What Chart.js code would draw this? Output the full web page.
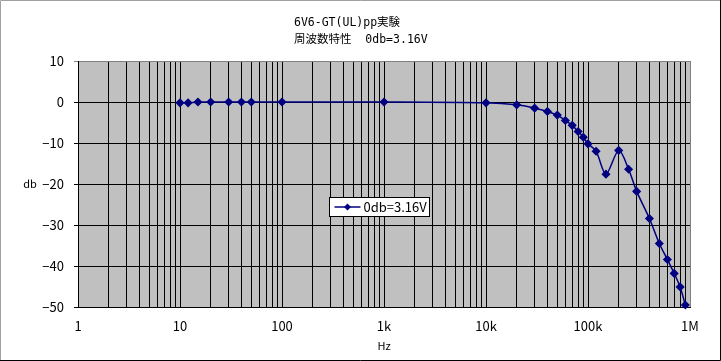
<!DOCTYPE html>
<html>
<head>
<meta charset="utf-8">
<script src="https://cdn.jsdelivr.net/npm/chart.js@4.4.1/dist/chart.umd.min.js"></script>
<style>
  html, body { margin: 0; padding: 0; background: #fff; overflow: hidden; }
  #wrap { position: relative; width: 721px; height: 361px; }
</style>
</head>
<body>
<div id="wrap"><canvas id="c" width="721" height="361"></canvas></div>
<script>
const freqHz = [10, 12, 15, 20, 30, 40, 50, 100, 1000, 10000, 20000, 30000, 40000, 50000,
  60000, 70000, 80000, 90000, 100000, 120000, 150000, 200000, 250000, 300000,
  400000, 500000, 600000, 700000, 800000, 900000];
const levelDb = [-0.2, -0.2, 0, 0, 0, 0, 0, 0, 0, -0.2, -0.7, -1.5, -2.3, -3.2,
  -4.5, -5.7, -7.2, -8.6, -10.2, -12.0, -17.6, -11.8, -16.4, -21.8,
  -28.4, -34.5, -38.4, -41.8, -45.1, -49.5];
const seriesLabel = '0db=3.16V';
const titleLines = ['6V6-GT(UL)pp実験', '周波数特性  0db=3.16V'];
const xDecades = [1, 10, 100, 1000, 10000, 100000, 1000000];
const xDecadeLabels = ['1', '10', '100', '1k', '10k', '100k', '1M'];
const yMin = -50, yMax = 10, yStep = 10;

const FONT = "'Noto Sans CJK JP', 'Noto Sans', sans-serif";
const MONO = "'DejaVu Sans Mono', 'Noto Sans CJK JP', monospace";
const NAVY = '#000080';
Chart.defaults.font.family = FONT;
Chart.defaults.font.size = 13;
Chart.defaults.color = '#000';

const fmtMinus = v => String(v).replace('-', '\u2212');

// minor gridlines 1..9 in every decade
function logTicks() {
  const out = [];
  xDecades.forEach((d, i) => {
    if (i === xDecades.length - 1) { out.push({ value: d }); return; }
    for (let k = 1; k <= 9; k++) out.push({ value: d * k });
  });
  return out;
}

const frame = {
  id: 'frame',
  beforeDraw(chart) {
    const { ctx, chartArea: a } = chart;
    ctx.save();
    ctx.fillStyle = '#c0c0c0';
    ctx.fillRect(a.left, a.top, a.right - a.left, a.bottom - a.top);
    ctx.restore();
  },
  afterDraw(chart) {
    const { ctx, chartArea: a, width, height } = chart;
    ctx.save();
    // title, left aligned like the original
    ctx.fillStyle = '#000';
    ctx.font = '11.5px ' + MONO;
    ctx.textAlign = 'left';
    ctx.textBaseline = 'middle';
    ctx.fillText(titleLines[0], 294, 23);
    ctx.fillText(titleLines[1], 294, 40);
    // axis names
    ctx.font = '11px ' + FONT;
    ctx.textAlign = 'center';
    ctx.fillText('db', 30, chart.scales.y.getPixelForValue(-20));
    ctx.fillText('Hz', (a.left + a.right) / 2, 346);
    // legend box
    const lx = 329.5, ly = 197.5, lw = 100, lh = 19;
    ctx.fillStyle = '#fff';
    ctx.fillRect(lx, ly, lw, lh);
    ctx.strokeStyle = '#000';
    ctx.lineWidth = 1;
    ctx.strokeRect(lx, ly, lw, lh);
    ctx.strokeStyle = NAVY;
    ctx.lineWidth = 1.5;
    ctx.beginPath();
    ctx.moveTo(lx + 5, ly + lh / 2);
    ctx.lineTo(lx + 31, ly + lh / 2);
    ctx.stroke();
    ctx.fillStyle = NAVY;
    const cx = lx + 18, cy = ly + lh / 2, r = 3.5;
    ctx.beginPath();
    ctx.moveTo(cx, cy - r); ctx.lineTo(cx + r, cy); ctx.lineTo(cx, cy + r); ctx.lineTo(cx - r, cy);
    ctx.closePath();
    ctx.fill();
    ctx.fillStyle = '#000';
    ctx.font = '13px ' + FONT;
    ctx.textAlign = 'left';
    ctx.fillText(seriesLabel, lx + 34, cy);
    // outer chart frame
    ctx.lineWidth = 1;
    ctx.strokeStyle = '#a0a0a0';
    ctx.beginPath();
    ctx.moveTo(0.5, height); ctx.lineTo(0.5, 0.5); ctx.lineTo(width, 0.5);
    ctx.stroke();
    ctx.strokeStyle = '#000';
    ctx.beginPath();
    ctx.moveTo(width - 0.5, 0); ctx.lineTo(width - 0.5, height - 0.5); ctx.lineTo(0, height - 0.5);
    ctx.stroke();
    ctx.restore();
  }
};

new Chart(document.getElementById('c'), {
  type: 'line',
  data: {
    datasets: [{
      label: seriesLabel,
      data: freqHz.map((f, i) => ({ x: f, y: levelDb[i] })),
      borderColor: NAVY,
      backgroundColor: NAVY,
      borderWidth: 1.5,
      pointStyle: 'rectRot',
      pointRadius: 3.5,
      pointBackgroundColor: NAVY,
      pointBorderColor: NAVY,
      tension: 0.3,
      fill: false,
      clip: 6
    }]
  },
  options: {
    responsive: false,
    animation: false,
    layout: { padding: { top: 61, right: 31, left: 0, bottom: 0 } },
    plugins: { legend: { display: false }, title: { display: false }, tooltip: { enabled: false } },
    scales: {
      x: {
        type: 'logarithmic',
        min: xDecades[0],
        max: xDecades[xDecades.length - 1],
        afterBuildTicks: s => { s.ticks = logTicks(); },
        afterFit: s => { s.height = 54; },
        ticks: {
          autoSkip: false,
          maxRotation: 0,
          padding: 11,
          callback: v => {
            const i = xDecades.indexOf(v);
            return i >= 0 ? xDecadeLabels[i] : '';
          }
        },
        grid: {
          drawTicks: false,
          color: c => (c.tick && c.tick.value === xDecades[xDecades.length - 1]) ? '#808080' : '#000'
        },
        border: { color: '#000' }
      },
      y: {
        min: yMin,
        max: yMax,
        afterFit: s => { s.width = 78; },
        ticks: { stepSize: yStep, padding: 10, callback: v => fmtMinus(v) },
        grid: {
          tickLength: 4,
          color: c => (c.tick && c.tick.value === yMax) ? '#808080' : '#000'
        },
        border: { color: '#000' }
      }
    }
  },
  plugins: [frame]
});
</script>
</body>
</html>
